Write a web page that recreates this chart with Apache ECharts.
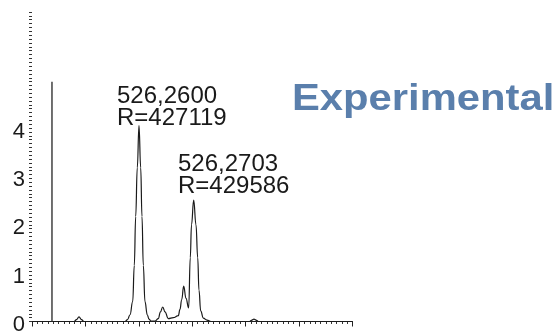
<!DOCTYPE html>
<html>
<head>
<meta charset="utf-8">
<script src="https://cdn.jsdelivr.net/npm/echarts@6/dist/echarts.min.js"></script>
<style>html,body{margin:0;padding:0;background:#fff}#c{width:560px;height:336px}</style>
</head>
<body>
<div id="c"></div>
<script>
// m/z values of the traced profile
var mz = [526.24000,526.24786,526.24833,526.24880,526.24927,526.24973,
  526.25741,526.25788,526.25835,526.25885,526.25915,526.25941,526.25971,526.26003,
  526.26035,526.26059,526.26084,526.26115,526.26158,526.26190,526.26228,526.26303,
  526.26364,526.26405,526.26447,526.26490,526.26551,526.26645,526.26739,526.26770,
  526.26802,526.26840,526.26883,526.26933,526.26963,526.26986,526.27027,526.27070,
  526.27102,526.27126,526.27158,526.27207,526.27276,526.27351,526.28072,526.28118,
  526.28156,526.28193,526.28240,526.30000];
// intensity values of the traced profile
var intensity = [0,0,0.04,0.095,0.04,0,
  0,0.04,0.14,0.41,1.16,2.17,3.18,4.05,
  3.18,2.17,1.16,0.41,0.14,0.05,0.01,0.01,
  0.06,0.2,0.30,0.2,0.06,0.08,0.12,0.25,
  0.45,0.73,0.48,0.28,1.32,2.0,2.51,2.0,
  1.32,0.65,0.22,0.07,0.03,0,0,0.03,
  0.05,0.03,0,0];
// vertical reference line
var refLineX = [526.24374, 526.24374];
var refLineY = [0, 4.96];
var yTickLabels = ['0','1','2','3','4'];
var peakLabels = ['526,2600\nR=427119', '526,2703\nR=429586'];
var titleText = 'Experimental';

var profile = mz.map(function(x,i){return [x, intensity[i]];});
var refLine = refLineX.map(function(x,i){return [x, refLineY[i]];});

var chart = echarts.init(document.getElementById('c'), null, {renderer:'canvas'});
var FONT = 'Liberation Sans, Arial, sans-serif';
chart.setOption({
  animation:false,
  textStyle:{fontFamily:FONT},
  grid:{left:32,right:207.5,top:12,bottom:9,containLabel:false},
  xAxis:{
    type:'value', min:526.24, max:526.30, interval:0.01,
    axisLine:{show:true,lineStyle:{color:'#222',width:1}},
    axisTick:{show:true,length:5,lineStyle:{color:'#222'}},
    minorTick:{show:true,splitNumber:10,length:2.5,lineStyle:{color:'#333'}},
    axisLabel:{show:false},
    splitLine:{show:false}
  },
  yAxis:[{
    type:'value', min:0, max:6.4, interval:1,
    axisLine:{show:false},
    axisTick:{show:false},
    axisLabel:{margin:7,color:'#1a1a1a',fontFamily:FONT,
      rich:{a:{fontSize:22,lineHeight:22,padding:[7,0,0,0],color:'#1a1a1a',fontFamily:FONT}},
      formatter:function(v){var i=Math.round(v);return (i>=0&&i<yTickLabels.length&&Math.abs(v-i)<1e-6)?'{a|'+yTickLabels[i]+'}':'';}},
    splitLine:{show:false}
  },{
    type:'value', position:'left', offset:0, min:0, max:6.4, interval:0.08,
    axisLine:{show:false},
    axisTick:{show:true,length:3,lineStyle:{color:'#333',width:1}},
    axisLabel:{show:false},
    splitLine:{show:false}
  }],
  series:[
    {type:'line',data:profile,symbol:'none',smooth:0.45,smoothMonotone:'x',
     lineStyle:{color:'#1a1a1a',width:1.2}},
    {type:'line',data:refLine,symbol:'none',lineStyle:{color:'#333',width:1.4}}
  ],
  graphic:[
    {type:'text',x:117,y:85,style:{text:peakLabels[0],font:'24px '+FONT,fill:'#1a1a1a',lineHeight:22,textVerticalAlign:'top'}},
    {type:'text',x:178,y:153,style:{text:peakLabels[1],font:'24px '+FONT,fill:'#1a1a1a',lineHeight:22,textVerticalAlign:'top'}},
    {type:'text',x:292,y:82,scaleX:1.16,style:{text:titleText,font:'bold 36px '+FONT,fill:'#5a7fac',textVerticalAlign:'top'}}
  ]
});
</script>
</body>
</html>
